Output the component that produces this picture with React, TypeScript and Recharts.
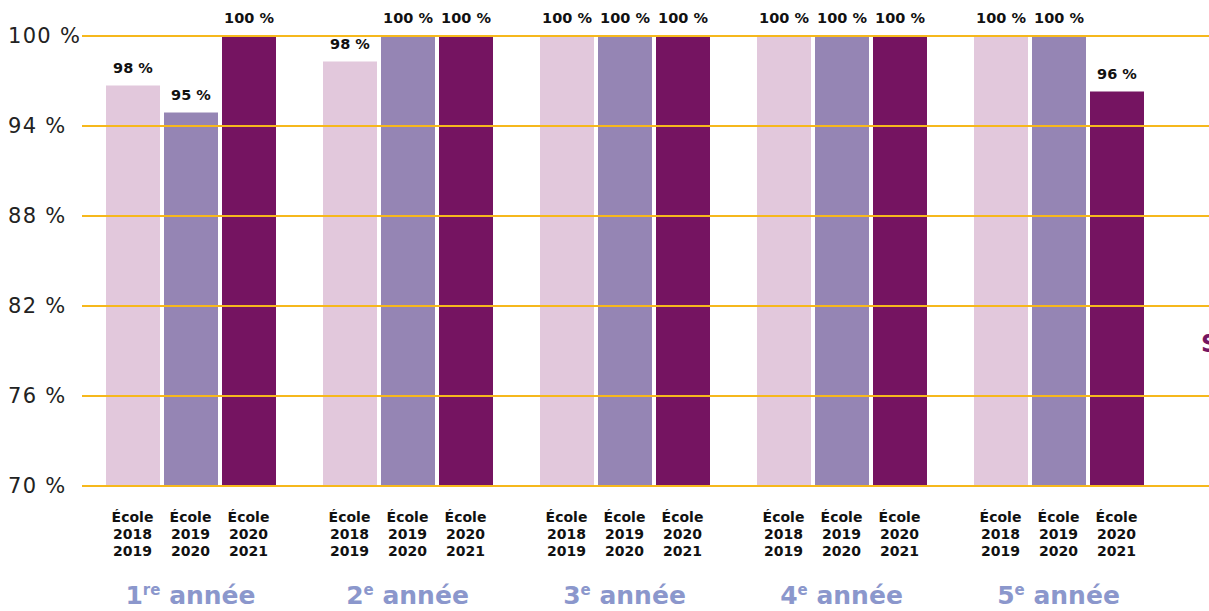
import React from 'react';
import { BarChart, Bar, XAxis, YAxis, ReferenceLine, LabelList } from 'recharts';

const grades = ['1', '2', '3', '4', '5'];
const gradeSup = ['re', 'e', 'e', 'e', 'e'];
const school1819 = [96.7, 98.3, 100, 100, 100];
const school1920 = [94.9, 100, 100, 100, 100];
const school2021 = [100, 100, 100, 100, 96.3];
const labels1819 = ['98 %', '98 %', '100 %', '100 %', '100 %'];
const labels1920 = ['95 %', '100  %', '100 %', '100 %', '100 %'];
const labels2021 = ['100 %', '100 %', '100 %', '100 %', '96 %'];
const seriesNames = [
  ['École', '2018', '2019'],
  ['École', '2019', '2020'],
  ['École', '2020', '2021'],
];
const yTicks = [70, 76, 82, 88, 94, 100];

const data = grades.map((g, i) => ({
  grade: g,
  s1: school1819[i],
  s2: school1920[i],
  s3: school2021[i],
}));

const FONT = '"DejaVu Sans", "Open Sans", sans-serif';
const BAR = 54;
const GAP = 4;

const YTick = ({ y, payload }: any) => (
  <text x={8} y={y} dy={7} fontSize={21} letterSpacing={1.3} fontFamily={FONT} fill="#222" textAnchor="start">
    {payload.value} %
  </text>
);

const XTick = ({ x, y, payload, index }: any) => {
  const offsets = [-(BAR + GAP), 0, BAR + GAP];
  return (
    <g>
      {offsets.map((o, k) => (
        <text key={k} x={x + o} textAnchor="middle" fontSize={14} fontWeight={700} fontFamily={FONT} fill="#111">
          {seriesNames[k].map((line, j) => (
            <tspan key={j} x={x + o} y={y + 28 + j * 17}>
              {line}
            </tspan>
          ))}
        </text>
      ))}
      <text x={x} y={y + 110} textAnchor="middle" fontSize={25} fontWeight={700} fontFamily={FONT} fill="#8b97cc">
        {payload.value}
        <tspan fontSize={15} dy={-9}>{gradeSup[index]}</tspan>
        <tspan dy={9}> année</tspan>
      </text>
    </g>
  );
};

const makeLabel = (arr: string[]) => (props: any) => {
  const { x, y, width, index } = props;
  return (
    <text x={x + width / 2} y={y - 13} textAnchor="middle" fontSize={14.5} fontWeight={700} fontFamily={FONT} fill="#111">
      {arr[index]}
    </text>
  );
};

export default function App() {
  return (
    <div style={{ position: 'absolute', left: 0, top: 0, width: 1209, height: 611, background: '#fff', overflow: 'hidden' }}>
      <BarChart
        width={1209}
        height={611}
        data={data}
        margin={{ top: 36, right: 0, bottom: 0, left: 0 }}
        barSize={BAR}
        barGap={GAP}
      >
        <XAxis
          dataKey="grade"
          axisLine={false}
          tickLine={false}
          height={125}
          padding={{ left: 0, right: 42 }}
          tick={<XTick />}
          interval={0}
        />
        <YAxis
          domain={[70, 100]}
          ticks={yTicks}
          axisLine={false}
          tickLine={false}
          width={82}
          tick={<YTick />}
        />
        <Bar dataKey="s1" fill="#e2c8dc" isAnimationActive={false}>
          <LabelList content={makeLabel(labels1819)} />
        </Bar>
        <Bar dataKey="s2" fill="#9585b4" isAnimationActive={false}>
          <LabelList content={makeLabel(labels1920)} />
        </Bar>
        <Bar dataKey="s3" fill="#751461" isAnimationActive={false}>
          <LabelList content={makeLabel(labels2021)} />
        </Bar>
        {yTicks.map((t) => (
          <ReferenceLine key={t} y={t} stroke="#f6b81c" strokeWidth={2} />
        ))}
      </BarChart>
      <div
        style={{
          position: 'absolute',
          left: 1201,
          top: 330,
          fontFamily: FONT,
          fontWeight: 700,
          fontSize: 24,
          color: '#751461',
        }}
      >
        S
      </div>
    </div>
  );
}
